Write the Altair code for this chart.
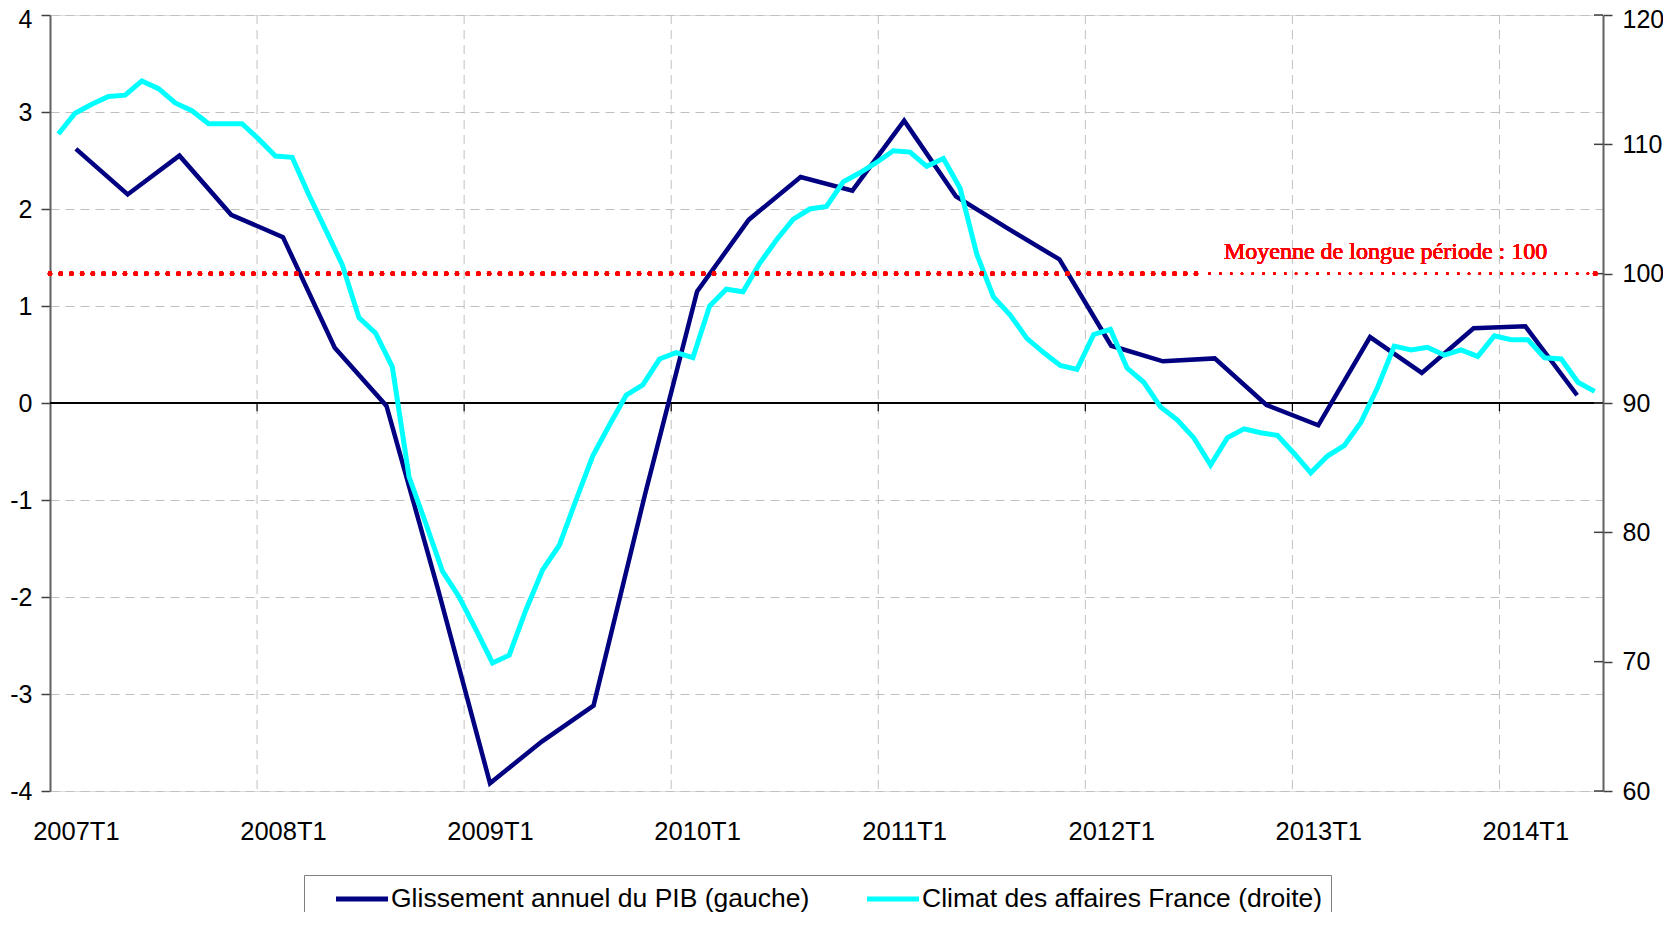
import altair as alt
import pandas as pd

# ---------------- data ----------------
YEAR_LABELS = ["2007T1", "2008T1", "2009T1", "2010T1", "2011T1", "2012T1", "2013T1", "2014T1"]

# Glissement annuel du PIB (%), quarterly 2007T1 .. 2014T2 (left axis)
PIB = [2.62, 2.15, 2.55, 1.94, 1.71, 0.57, -0.03, -1.93,
       -3.92, -3.49, -3.12, -0.93, 1.15, 1.89, 2.33, 2.19,
       2.91, 2.13, 1.80, 1.48, 0.59, 0.43, 0.46, -0.02,
       -0.23, 0.68, 0.31, 0.77, 0.79, 0.08]

# Climat des affaires France, monthly Jan 2007 .. Sep 2014 (right axis)
CLIMAT = [110.8, 112.4, 113.1, 113.7, 113.8, 114.9, 114.3, 113.2, 112.6, 111.6, 111.6, 111.6,
          110.4, 109.1, 109.0, 106.1, 103.4, 100.7, 96.6, 95.4, 92.8, 84.3, 80.7, 77.0,
          75.0, 72.5, 69.9, 70.5, 74.0, 77.1, 79.0, 82.5, 85.9, 88.3, 90.6, 91.4,
          93.4, 93.9, 93.5, 97.5, 98.8, 98.6, 100.8, 102.6, 104.2, 105.0, 105.2, 107.1,
          107.8, 108.6, 109.5, 109.4, 108.3, 108.9, 106.6, 101.5, 98.2, 96.8, 95.0, 93.9,
          92.9, 92.6, 95.3, 95.7, 92.7, 91.6, 89.7, 88.7, 87.3, 85.2, 87.3, 88.0,
          87.7, 87.5, 86.1, 84.6, 85.9, 86.7, 88.5, 91.2, 94.4, 94.1, 94.3, 93.7,
          94.1, 93.6, 95.2, 94.9, 94.9, 93.5, 93.4, 91.6, 90.9]

LEFT_TICKS = [-4, -3, -2, -1, 0, 1, 2, 3, 4]
RIGHT_TICKS = [60, 70, 80, 90, 100, 110, 120]
YEAR_GRID = [4, 8, 12, 16, 20, 24, 28]          # year boundaries, in quarters
SERIES = ["Glissement annuel du PIB (gauche)", "Climat des affaires France (droite)"]
COLORS = ["#000080", "#00FFFF"]
MOYENNE = 100
MOYENNE_LABEL = "Moyenne de longue période : 100"
MOYENNE_SPLIT = 22.2   # where the heavy dotted part ends (quarters)
MOYENNE_END = 29.85
LABEL_POS = 25.8

N_Q = len(PIB)
N_M = len(CLIMAT)
X_DOM = [0, N_Q]

pib_df = pd.DataFrame({"x": [i + 0.5 for i in range(N_Q)], "v": PIB, "serie": SERIES[0]})
clim_df = pd.DataFrame({"x": [(i + 0.5) * N_Q / N_M for i in range(N_M)], "v": CLIMAT, "serie": SERIES[1]})
grid_df = pd.DataFrame({"g": YEAR_GRID})
rt_df = pd.DataFrame({"t": RIGHT_TICKS})

FONT = "Liberation Sans"

xscale = alt.Scale(domain=X_DOM, nice=False, zero=False)
lscale = alt.Scale(domain=[-4, 4], nice=False, zero=False)
rscale = alt.Scale(domain=[60, 120], nice=False, zero=False)
cscale = alt.Scale(domain=SERIES, range=COLORS)

# year label expression built from YEAR_LABELS
label_expr = ""
for i, lab in enumerate(YEAR_LABELS[:-1]):
    label_expr += f"datum.value < {4 * (i + 1)} ? '{lab}' : "
label_expr += f"'{YEAR_LABELS[-1]}'"

x_axis = alt.Axis(values=[4 * k + 0.5 for k in range(len(YEAR_LABELS))], labelExpr=label_expr,
                  grid=False, ticks=False, domain=False, labelFont=FONT,
                  labelFontSize=25.5, labelColor="black", labelPadding=28, labelAngle=0,
                  labelFlush=False, title=None)

left_axis = alt.Axis(values=LEFT_TICKS, orient="left", grid=True, gridDash=[9, 6], gridColor="#c0c0c0",
                     gridWidth=1, tickSize=9, tickColor="#404040", tickWidth=1.5,
                     domainColor="#606060", domainWidth=2, labelFont=FONT, labelFontSize=25,
                     labelColor="black", labelPadding=9, title=None,
                     labelOffset={"condition": {"test": f"datum.value == {LEFT_TICKS[-1]}", "value": 4.5},
                                  "value": 0},
                     labelExpr="'' + datum.value")

right_axis = alt.Axis(values=RIGHT_TICKS, orient="right", grid=False, tickSize=9, tickColor="#404040",
                      tickWidth=1.5, domainColor="#606060", domainWidth=2, labelFont=FONT,
                      labelFontSize=25, labelColor="black", labelPadding=10, title=None,
                      labelOffset={"condition": {"test": f"datum.value == {RIGHT_TICKS[-1]}", "value": 4.5},
                                   "value": 0},
                      labelExpr="'' + datum.value")

legend = alt.Legend(orient="none", legendX=254, legendY=860, direction="horizontal", title=None,
                    symbolType="M-2,0H2", symbolSize=676, symbolStrokeWidth=5, labelFont=FONT,
                    labelFontSize=26.5, labelLimit=0, labelOffset=13.5, columnPadding=34, padding=8.5,
                    symbolOffset=34, strokeColor="#808080", fillColor="white",
                    labelColor="black")


def X(field=None, datum=None):
    if datum is not None:
        return alt.X(datum=datum, scale=xscale, axis=x_axis)
    return alt.X(field, scale=xscale, axis=x_axis)


# ---------- layers ----------
vgrid = alt.Chart(grid_df).mark_rule(color="#c0c0c0", strokeDash=[9, 6], strokeWidth=1).encode(
    x=X("g:Q"))

zero_line = alt.Chart(grid_df).mark_rule(color="black", strokeWidth=1.5).encode(
    y=alt.Y(datum=0, scale=lscale, axis=None))

zero_ticks = alt.Chart(grid_df).mark_rule(color="black", strokeWidth=1.2).encode(
    x=X("g:Q"),
    y=alt.Y(datum=0, scale=lscale, axis=None),
    y2=alt.Y2(datum=-0.085))

pib_line = alt.Chart(pib_df).mark_line(strokeWidth=4.5, strokeJoin="miter").encode(
    x=X("x:Q"),
    y=alt.Y("v:Q", scale=lscale, axis=left_axis),
    color=alt.Color("serie:N", scale=cscale, legend=legend))

clim_line = alt.Chart(clim_df).mark_line(strokeWidth=5, strokeJoin="miter").encode(
    x=X("x:Q"),
    y=alt.Y("v:Q", scale=rscale, axis=right_axis),
    color=alt.Color("serie:N", scale=cscale, legend=legend))

moy_big = alt.Chart(rt_df).mark_rule(color="red", strokeWidth=4.6, strokeDash=[0.01, 10.7],
                                      strokeCap="round").encode(
    x=X(datum=0), x2=alt.X2(datum=MOYENNE_SPLIT),
    y=alt.Y(datum=MOYENNE, scale=rscale, axis=None))

moy_small = alt.Chart(rt_df).mark_rule(color="red", strokeWidth=2.6, strokeDash=[0.01, 10.8],
                                        strokeCap="round").encode(
    x=X(datum=MOYENNE_SPLIT + 0.2), x2=alt.X2(datum=MOYENNE_END),
    y=alt.Y(datum=MOYENNE, scale=rscale, axis=None))

moy_end = alt.Chart(rt_df).mark_circle(color="red", size=24, opacity=1).encode(
    x=X(datum=MOYENNE_END),
    y=alt.Y(datum=MOYENNE, scale=rscale, axis=None))

moy_text = alt.Chart(rt_df).mark_text(text=MOYENNE_LABEL, font="Liberation Serif", fontSize=24,
                                       fontWeight="normal", color="red", dy=-15, align="center",
                                       baseline="alphabetic").encode(
    x=X(datum=LABEL_POS),
    y=alt.Y(datum=MOYENNE, scale=rscale, axis=None))

rticks = alt.Chart(rt_df).mark_rule(color="#404040", strokeWidth=1.5).encode(
    y=alt.Y("t:Q", scale=rscale, axis=None),
    x=X(datum=N_Q - 9 / 51.77),
    x2=alt.X2(datum=N_Q))

chart = alt.layer(vgrid, zero_line, zero_ticks, pib_line, clim_line, rticks,
                  moy_big, moy_small, moy_end, moy_text).resolve_scale(y="independent").properties(
    width=1553, height=776,
    padding={"left": 42, "top": 7, "right": 60, "bottom": 121},
    autosize=alt.AutoSizeParams(type="none"),
).configure_view(stroke="#808080", strokeWidth=2).configure(font=FONT, background="white")

chart.save("out.html", embed_options={"renderer": "svg", "actions": False})
